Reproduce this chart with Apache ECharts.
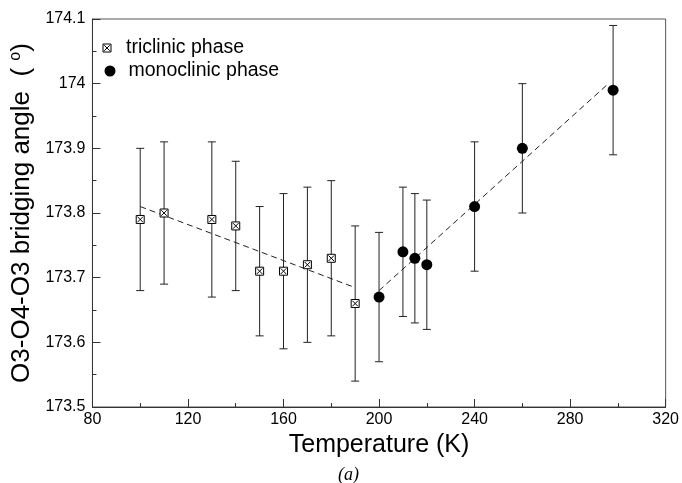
<!DOCTYPE html>
<html><head><meta charset="utf-8">
<script src="https://cdn.jsdelivr.net/npm/echarts@6/dist/echarts.min.js"></script>
<style>html,body{margin:0;padding:0;background:#fff}#c{width:682px;height:483px}</style>
</head><body><div id="c"></div>
<script>
// Data
var triT = [100, 110, 130, 140, 150, 160, 170, 180, 190];
var triV = [173.79, 173.80, 173.79, 173.78, 173.71, 173.71, 173.72, 173.73, 173.66];
var triErr = [0.11, 0.11, 0.12, 0.10, 0.10, 0.12, 0.12, 0.12, 0.12];
var monoT = [200, 210, 215, 220, 240, 260, 298];
var monoV = [173.67, 173.74, 173.73, 173.72, 173.81, 173.90, 173.99];
var monoErr = [0.10, 0.10, 0.10, 0.10, 0.10, 0.10, 0.10];
var triFitT = [100, 189];
var triFitV = [173.81, 173.686];
var monoFitT = [200, 296];
var monoFitV = [173.68, 174.0];
var xTicks = [80, 120, 160, 200, 240, 280, 320];
var yTicks = [173.5, 173.6, 173.7, 173.8, 173.9, 174.0, 174.1];

var FONT = '"Liberation Sans", Arial, Helvetica, sans-serif';
var boxX = 'path://M0,0H10V10H0Z M1.5,1.5L8.5,8.5 M8.5,1.5L1.5,8.5';

function zip2(a, b) { return a.map(function (v, i) { return [v, b[i]]; }); }
function zip3(a, b, c) { return a.map(function (v, i) { return [v, b[i], c[i]]; }); }

function errRender(params, api) {
  var x = api.value(0), y = api.value(1), e = api.value(2);
  var lo = api.coord([x, y - e]), hi = api.coord([x, y + e]);
  var w = 4;
  var st = { stroke: '#222', lineWidth: 1 };
  return {
    type: 'group',
    children: [
      { type: 'line', shape: { x1: lo[0], y1: lo[1], x2: hi[0], y2: hi[1] }, style: st },
      { type: 'line', shape: { x1: lo[0] - w, y1: lo[1], x2: lo[0] + w, y2: lo[1] }, style: st },
      { type: 'line', shape: { x1: hi[0] - w, y1: hi[1], x2: hi[0] + w, y2: hi[1] }, style: st }
    ]
  };
}

var chart = echarts.init(document.getElementById('c'), null, { renderer: 'canvas' });
chart.setOption({
  animation: false,
  backgroundColor: '#fff',
  textStyle: { fontFamily: FONT },
  grid: { left: 82, right: 12, top: 19, bottom: 76, show: true, borderColor: '#555', borderWidth: 1, containLabel: false },
  legend: [
    {
      data: [{ name: 'triclinic phase', icon: boxX }],
      left: 102.5, top: 38, padding: 0, itemWidth: 8, itemHeight: 8, itemGap: 0,
      textStyle: { fontSize: 19.5, color: '#000', fontFamily: FONT, padding: [0, 0, 0, 10] },
      itemStyle: { color: '#fff', borderColor: '#000', borderWidth: 1 }
    },
    {
      data: [{ name: 'monoclinic phase', icon: 'circle' }],
      left: 104.5, top: 61, padding: 0, itemWidth: 11, itemHeight: 11, itemGap: 0,
      textStyle: { fontSize: 19.5, color: '#000', fontFamily: FONT, padding: [0, 0, 0, 8] }
    }
  ],
  xAxis: {
    type: 'value', min: xTicks[0], max: xTicks[xTicks.length - 1], interval: 40,
    name: 'Temperature (K)', nameLocation: 'middle', nameGap: 24,
    nameTextStyle: { fontSize: 25, color: '#000', fontFamily: FONT },
    axisLine: { show: true, lineStyle: { color: '#333', width: 1 } },
    axisTick: { show: true, inside: true, length: 8, lineStyle: { color: '#333' } },
    minorTick: { show: true, splitNumber: 2, length: 4, lineStyle: { color: '#333' } },
    splitLine: { show: false },
    axisLabel: { fontSize: 16, color: '#000', margin: 5, fontFamily: FONT }
  },
  yAxis: {
    type: 'value', min: yTicks[0], max: yTicks[yTicks.length - 1], interval: 0.1,
    name: 'O3-O4-O3 bridging angle  ( {sup|o})', nameLocation: 'middle', nameGap: 57,
    nameTextStyle: {
      fontSize: 26, color: '#000', fontFamily: FONT,
      rich: { sup: { fontSize: 16, color: '#000', fontFamily: FONT, padding: [0, 0, 11, 0] } }
    },
    axisLine: { show: true, lineStyle: { color: '#333', width: 1 } },
    axisTick: { show: true, inside: true, length: 8, lineStyle: { color: '#333' } },
    minorTick: { show: true, splitNumber: 2, length: 4, lineStyle: { color: '#333' } },
    splitLine: { show: false },
    axisLabel: {
      fontSize: 16, color: '#000', margin: 7, fontFamily: FONT,
      formatter: function (v) { return String(Math.round(v * 10) / 10); }
    }
  },
  series: [
    {
      name: 'triErr', type: 'custom', renderItem: errRender, data: zip3(triT, triV, triErr), z: 2, silent: true
    },
    {
      name: 'monoErr', type: 'custom', renderItem: errRender, data: zip3(monoT, monoV, monoErr), z: 2, silent: true
    },
    {
      name: 'triFit', type: 'line', data: zip2(triFitT, triFitV), symbol: 'none', z: 3,
      lineStyle: { color: '#222', width: 1, type: [6, 4] }, silent: true
    },
    {
      name: 'monoFit', type: 'line', data: zip2(monoFitT, monoFitV), symbol: 'none', z: 3,
      lineStyle: { color: '#222', width: 1, type: [6, 4] }, silent: true
    },
    {
      name: 'triclinic phase', type: 'scatter', data: zip2(triT, triV), symbol: boxX, symbolSize: 8, z: 5,
      itemStyle: { color: '#fff', borderColor: '#000', borderWidth: 1, opacity: 1 }
    },
    {
      name: 'monoclinic phase', type: 'scatter', data: zip2(monoT, monoV), symbol: 'circle', symbolSize: 11, z: 5,
      itemStyle: { color: '#000', opacity: 1 }
    }
  ],
  graphic: [
    {
      type: 'text', left: 338, top: 466,
      style: { text: '(a)', font: 'italic 18px "Liberation Serif", "Times New Roman", serif', fill: '#000' }
    }
  ]
});
</script>
</body></html>
